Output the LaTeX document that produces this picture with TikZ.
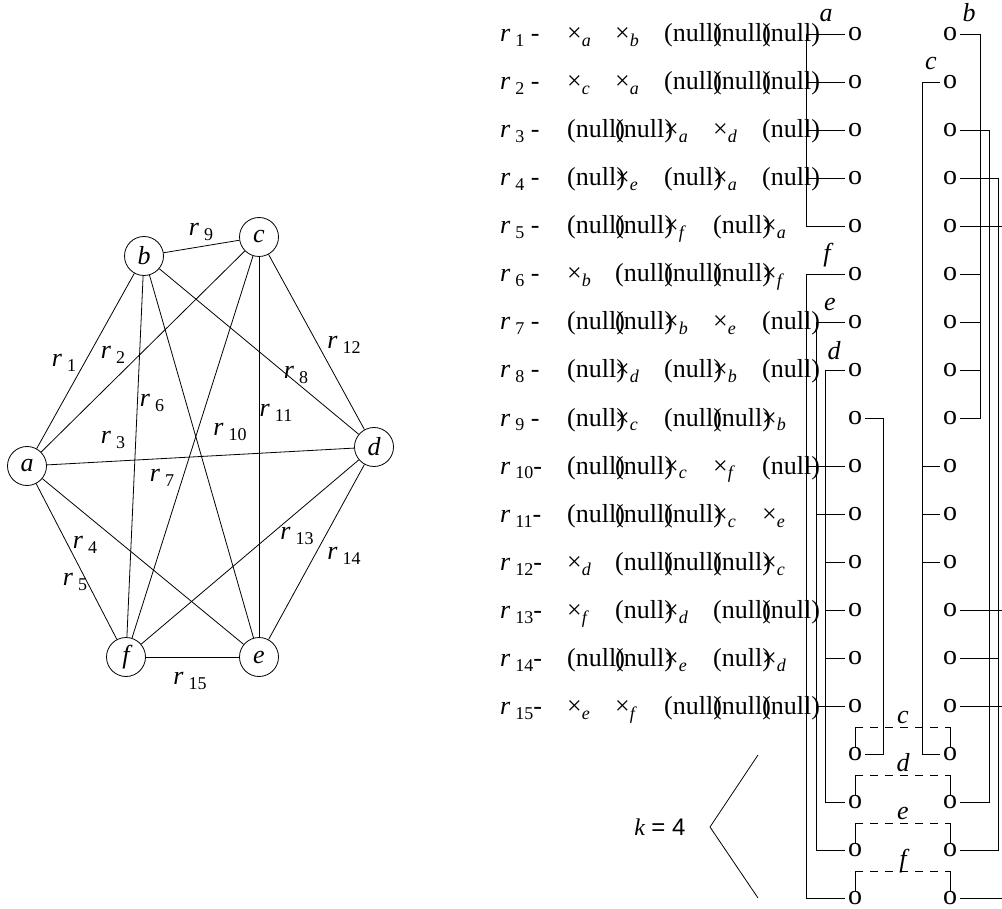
\documentclass[tikz,border=0pt]{standalone}
\usepackage{fontspec}
\setmainfont{Liberation Serif}
\newfontfamily\sansf{Liberation Sans}
\newcommand\subsc[1]{\raisebox{-5pt}{\fontsize{18}{18}\selectfont #1}}
\newcommand\rlab[1]{\textit{r}\kern5pt\subsc{#1}}
\newcommand\xs[1]{×\subsc{\itshape #1}}
\newcommand\nl{(null)}
\newcommand\mkrow[7]{%
  \node[cell] (rl#1) at (500,{48*#1-6}) {#2};
  \node[cell] (k#1a) at (567,{48*#1-6}) {#3};
  \node[cell] (k#1b) at (615,{48*#1-6}) {#4};
  \node[cell] (k#1c) at (664,{48*#1-6}) {#5};
  \node[cell] (k#1d) at (713,{48*#1-6}) {#6};
  \node[cell] (k#1e) at (762,{48*#1-6}) {#7};}
\begin{document}
\begin{tikzpicture}[x=1pt,y=-1pt,
  every node/.style={inner sep=0pt, font=\fontsize{26}{26}\selectfont},
  vtx/.style={circle, draw, line width=0.8pt, minimum size=39pt, inner sep=0pt, font=\fontsize{26}{26}\selectfont\itshape},
  elab/.style={font=\fontsize{26}{26}\selectfont},
  cell/.style={anchor=base west},
  oo/.style={inner xsep=2.5pt, inner ysep=0pt, font=\fontsize{28}{28}\selectfont},
  lab/.style={anchor=base, font=\fontsize{26}{26}\selectfont\itshape},
  wire/.style={line width=0.8pt},
  dsh/.style={line width=0.8pt, dash pattern=on 8pt off 7pt}]
\useasboundingbox (0,0) rectangle (1002,909);

% ---------- graph ----------
\node[vtx] (a) at (27,466) {a};
\node[vtx] (b) at (144,256) {b};
\node[vtx] (c) at (259,237) {c};
\node[vtx] (d) at (374,447) {d};
\node[vtx] (e) at (259,657) {e};
\node[vtx] (f) at (126,657) {f};
\begin{scope}[wire]
\draw (a) -- (b); \draw (a) -- (c); \draw (a) -- (d); \draw (a) -- (e); \draw (a) -- (f);
\draw (b) -- (c); \draw (b) -- (d); \draw (b) -- (e); \draw (b) -- (f);
\draw (c) -- (d); \draw (c) -- (e); \draw (c) -- (f);
\draw (d) -- (e); \draw (d) -- (f); \draw (e) -- (f);
\end{scope}
\node[elab] (l1) at (64,363) {\rlab{1}};
\node[elab] (l2) at (113,355) {\rlab{2}};
\node[elab] (l3) at (113,440) {\rlab{3}};
\node[elab] (l4) at (85,545) {\rlab{4}};
\node[elab] (l5) at (75,582) {\rlab{5}};
\node[elab] (l6) at (152,403) {\rlab{6}};
\node[elab] (l7) at (162,478) {\rlab{7}};
\node[elab] (l8) at (296,375) {\rlab{8}};
\node[elab] (l9) at (201,232) {\rlab{9}};
\node[elab] (l10) at (230,432) {\rlab{10}};
\node[elab] (l11) at (276,413) {\rlab{11}};
\node[elab] (l12) at (344,345) {\rlab{12}};
\node[elab] (l13) at (297,536) {\rlab{13}};
\node[elab] (l14) at (344,556) {\rlab{14}};
\node[elab] (l15) at (190,681) {\rlab{15}};

% ---------- table ----------
\mkrow{1}{\rlab{1} -}{\xs a}{\xs b}{\nl}{\nl}{\nl}
\mkrow{2}{\rlab{2} -}{\xs c}{\xs a}{\nl}{\nl}{\nl}
\mkrow{3}{\rlab{3} -}{\nl}{\nl}{\xs a}{\xs d}{\nl}
\mkrow{4}{\rlab{4} -}{\nl}{\xs e}{\nl}{\xs a}{\nl}
\mkrow{5}{\rlab{5} -}{\nl}{\nl}{\xs f}{\nl}{\xs a}
\mkrow{6}{\rlab{6} -}{\xs b}{\nl}{\nl}{\nl}{\xs f}
\mkrow{7}{\rlab{7} -}{\nl}{\nl}{\xs b}{\xs e}{\nl}
\mkrow{8}{\rlab{8} -}{\nl}{\xs d}{\nl}{\xs b}{\nl}
\mkrow{9}{\rlab{9} -}{\nl}{\xs c}{\nl}{\nl}{\xs b}
\mkrow{10}{\rlab{10}-}{\nl}{\nl}{\xs c}{\xs f}{\nl}
\mkrow{11}{\rlab{11}-}{\nl}{\nl}{\nl}{\xs c}{\xs e}
\mkrow{12}{\rlab{12}-}{\xs d}{\nl}{\nl}{\nl}{\xs c}
\mkrow{13}{\rlab{13}-}{\xs f}{\nl}{\xs d}{\nl}{\nl}
\mkrow{14}{\rlab{14}-}{\nl}{\nl}{\xs e}{\nl}{\xs d}
\mkrow{15}{\rlab{15}-}{\xs e}{\xs f}{\nl}{\nl}{\nl}

% ---------- o columns ----------
\foreach \i in {1,...,19} {
  \node[oo] (L\i) at (855,{48*\i-14}) {o};
  \node[oo] (R\i) at (950,{48*\i-14}) {o};
}
\coordinate (xa) at (806,0);
\coordinate (xe) at (816,0);
\coordinate (xd) at (825,0);
\coordinate (xcl) at (883,0);
\coordinate (xc) at (922,0);
\coordinate (xb) at (980,0);
\coordinate (xdr) at (989,0);
\coordinate (xer) at (998,0);
\coordinate (xedge) at (1002,0);

\begin{scope}[wire]
% a
\draw (L1.west) -- (L1.west -| xa) -- (L5.west -| xa) -- (L5.west);
\foreach \i in {2,3,4} \draw (L\i.west) -- (L\i.west -| xa);
% f (left)
\draw (L6.west) -- (L6.west -| xa) -- (L19.west -| xa) -- (L19.west);
\draw (L10.west) -- (L10.west -| xa);
% e (left)
\draw (L7.west) -- (L7.west -| xe) -- (L18.west -| xe) -- (L18.west);
\foreach \i in {11,15} \draw (L\i.west) -- (L\i.west -| xe);
% d (left)
\draw (L8.west) -- (L8.west -| xd) -- (L17.west -| xd) -- (L17.west);
\foreach \i in {12,13,14} \draw (L\i.west) -- (L\i.west -| xd);
% c (left, row 9)
\draw (L9.east) -- (L9.east -| xcl) -- (L16.east -| xcl) -- (L16.east);
% c (right)
\draw (R2.west) -- (R2.west -| xc) -- (R16.west -| xc) -- (R16.west);
\foreach \i in {10,11,12} \draw (R\i.west) -- (R\i.west -| xc);
% b
\draw (R1.east) -- (R1.east -| xb) -- (R9.east -| xb) -- (R9.east);
\foreach \i in {6,7,8} \draw (R\i.east) -- (R\i.east -| xb);
% d (right)
\draw (R3.east) -- (R3.east -| xdr) -- (R17.east -| xdr) -- (R17.east);
% e (right)
\draw (R4.east) -- (R4.east -| xer) -- (R18.east -| xer) -- (R18.east);
\draw (R14.east) -- (R14.east -| xer);
% f (right), running off the edge
\foreach \i in {5,13,15,19} \draw (R\i.east) -- (R\i.east -| xedge);
\end{scope}

% labels of the lines
\node[lab] (ta) at (826,22) {a};
\node[lab] (tb) at (969,22) {b};
\node[lab] (tc) at (931,70) {c};
\node[lab] (tf) at (827,262) {f};
\node[lab] (te) at (830,311) {e};
\node[lab] (td) at (834,360) {d};

% dashed brackets
\foreach \i/\n in {16/c,17/d,18/e,19/f} {
  \coordinate (t\i) at (0,{48*\i-41});
  \draw[wire] (L\i.north) -- (L\i.north |- t\i);
  \draw[wire] (R\i.north) -- (R\i.north |- t\i);
  \draw[dsh] (L\i.north |- t\i) -- (R\i.north |- t\i);
  \node[lab] (bl\i) at (903,{48*\i-45}) {\n};
}

% k = 4 and the angle
\node[font=\fontsize{24}{24}\selectfont] (k) at (660,827) {\textit{k} {\sansf = 4}};
\coordinate (bt) at (758,755);
\coordinate (bv) at (710,827);
\coordinate (bb) at (758,898);
\draw[wire] (bt) -- (bv) -- (bb);
\end{tikzpicture}
\end{document}
